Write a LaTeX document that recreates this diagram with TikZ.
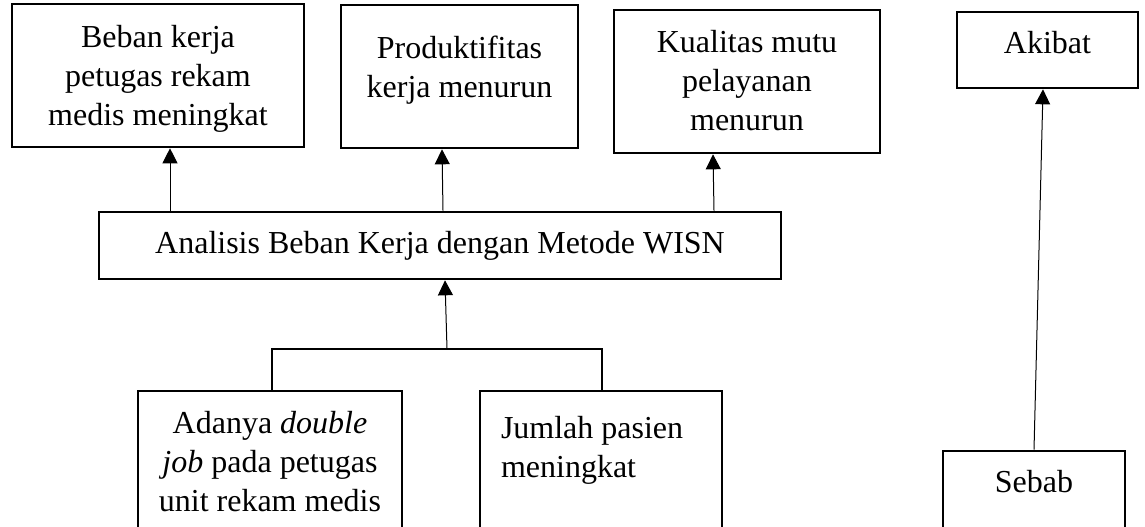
\documentclass[tikz,border=0pt]{standalone}
\usepackage{fontspec}
\setmainfont{Liberation Serif}
\usepackage{tikz}
\usetikzlibrary{arrows.meta}
\tikzset{kotak/.style={draw, line width=1.3pt, inner sep=0pt}}
\tikzset{panah/.style={line width=.5pt, -{Triangle[length=7.5pt, width=7.5pt]}}}
\tikzset{garis/.style={line width=1pt}}
\newcommand{\isikotak}[4]{\parbox[c][#2][t]{#1}{\centering\rule{0pt}{#3}#4}}

\begin{document}
\begin{tikzpicture}[x=.5pt, y=-.5pt, font=\fontsize{16}{19.5}\selectfont]

\clip (0, 0) rectangle (1145, 526);

\node [kotak] (beban) at (158, 75.5) {\isikotak{146pt}{71.5pt}{21.5pt}{Beban kerja\\petugas rekam\\medis meningkat}};
\node [kotak] (produktif) at (459.5, 76.5) {\isikotak{118.5pt}{71.5pt}{26.5pt}{Produktifitas\\kerja menurun}};
\node [kotak] (kualitas) at (747, 81.5) {\isikotak{133pt}{71.5pt}{21pt}{Kualitas mutu\\pelayanan\\menurun}};
\node [kotak] (akibat) at (1047.5, 50) {\isikotak{90.5pt}{38pt}{20.5pt}{Akibat}};

\node [kotak] (wisn) at (440, 245.5) {\isikotak{341pt}{33.5pt}{20.5pt}{Analisis Beban Kerja dengan Metode WISN}};

\node [kotak] (adanya) at (270, 475.5) {\isikotak{132pt}{84.5pt}{21pt}{Adanya \emph{double}\\\emph{job} pada petugas\\unit rekam medis}};
\node [kotak] (jumlah) at (601, 475.5) {\isikotak{121pt}{84.5pt}{23.5pt}{\raggedright\leftskip=10.5pt Jumlah pasien\\meningkat}};
\node [kotak] (sebab) at (1034, 505.5) {\isikotak{91pt}{54.5pt}{20.5pt}{Sebab}};

\draw[panah] (170,0 |- wisn.north) -- (170,0 |- beban.south);
\draw[panah] (443,0 |- wisn.north) -- (442,0 |- produktif.south);
\draw[panah] (714,0 |- wisn.north) -- (713,0 |- kualitas.south);

\coordinate (cabang) at (447, 349);
\draw[garis] (272,0 |- adanya.north) |- (cabang) -| (602,0 |- jumlah.north);
\draw[panah] (cabang) -- (445,0 |- wisn.south);

\draw[panah] (1034,0 |- sebab.north) -- (1043,0 |- akibat.south);

\end{tikzpicture}
\end{document}
